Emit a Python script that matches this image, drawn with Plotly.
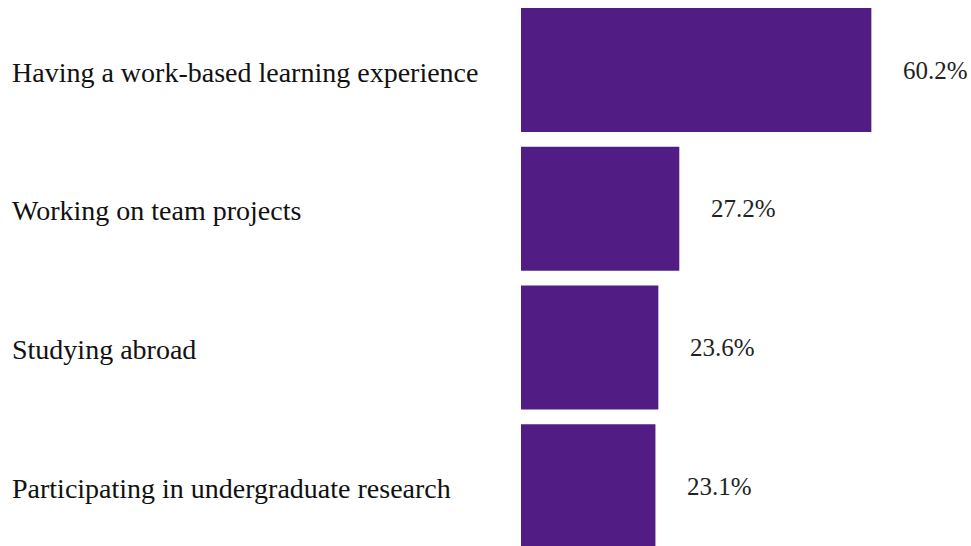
import plotly.graph_objects as go

categories = [
    "Having a work-based learning experience",
    "Working on team projects",
    "Studying abroad",
    "Participating in undergraduate research",
]
values = [60.2, 27.2, 23.6, 23.1]
value_labels = ["60.2%", "27.2%", "23.6%", "23.1%"]

positions = list(range(len(categories)))

fig = go.Figure(
    go.Bar(
        x=values,
        y=positions,
        orientation="h",
        width=0.894,
        marker=dict(color="#521C85", line=dict(width=0)),
        hoverinfo="skip",
    )
)

FONT = "Liberation Serif, Times New Roman, serif"

annotations = []
for p, cat in zip(positions, categories):
    annotations.append(dict(
        x=10 / 971, xref="paper", y=p, yref="y",
        text=cat, showarrow=False, xanchor="left", yanchor="middle",
        yshift=-2,
        font=dict(family=FONT, size=28, color="#111111"),
    ))
for p, v, lab in zip(positions, values, value_labels):
    annotations.append(dict(
        x=v, xref="x", y=p, yref="y",
        text=lab, showarrow=False, xanchor="left", yanchor="middle",
        xshift=30,
        font=dict(family=FONT, size=25, color="#222222"),
    ))

fig.update_layout(
    width=971, height=546,
    margin=dict(l=0, r=0, t=0, b=0),
    paper_bgcolor="white", plot_bgcolor="white",
    showlegend=False,
    xaxis=dict(domain=[521 / 971, 1], range=[0, 450 / 5.82], visible=False, fixedrange=True),
    yaxis=dict(range=[3.43, -0.505], visible=False, fixedrange=True),
    annotations=annotations,
)

fig.write_html("out.html")
